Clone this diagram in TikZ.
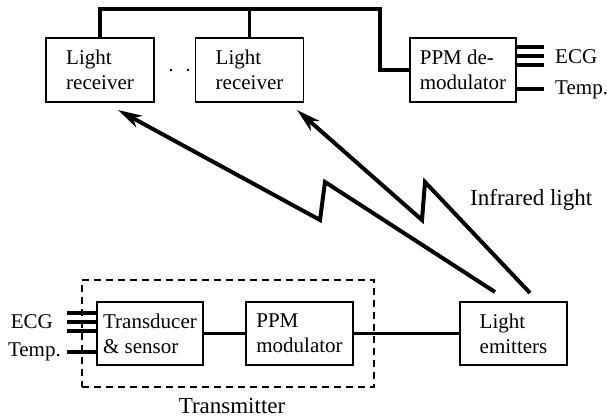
\documentclass[tikz,border=0pt]{standalone}
\usepackage{fontspec}
\setmainfont{Liberation Serif}
\usetikzlibrary{arrows.meta}
\begin{document}
\begin{tikzpicture}[x=1pt,y=-1pt,
  blk/.style={draw,line width=1.4pt,minimum height=64pt,align=left,inner sep=0pt,
    font=\fontsize{21}{25}\selectfont},
  lbl/.style={font=\fontsize{21}{25}\selectfont,inner sep=0pt},
  big/.style={font=\fontsize{23}{27}\selectfont,inner sep=0pt},
  wire/.style={line width=3.2pt},
  ray/.style={line width=4pt,-{Stealth[length=24pt,width=13pt,inset=7pt]}},
]
\useasboundingbox (0,0) rectangle (607,419);
% receiver side
\node[blk,minimum width=108pt] (rec1) at (100,70) {Light\\receiver};
\node[blk,minimum width=108pt] (rec2) at (249.5,70) {Light\\receiver};
\node[blk,minimum width=106pt] (demod) at (463,70) {PPM de-\\modulator};
\node (d1) at (171,70) {};
\node (d2) at (188,70) {};
\fill (d1) circle (1.4pt);
\fill (d2) circle (1.4pt);
\coordinate (c1) at (380,9);
\draw[wire] (rec1.north) |- (c1) |- (demod.west);
\draw[wire] (rec2.north) -- (rec2.north |- c1);
% demod outputs
\foreach \y in {47,56,65}{
  \draw[wire] (demod.east |- 0,\y) -- (544,\y);
}
\draw[wire] (demod.east |- 0,89) -- (544,89);
\node[lbl,anchor=west] (ecgo) at (555,57) {ECG};
\node[lbl,anchor=west] (tempo) at (555,90) {Temp.};
% transmitter side
\node[blk,minimum width=106pt,minimum height=63pt] (trans) at (150,333.5) {Transducer\\\& sensor};
\node[blk,minimum width=107pt,minimum height=63pt] (mod) at (299.5,333.5) {PPM\\modulator};
\node[blk,minimum width=107pt,minimum height=63pt] (emit) at (513.5,333.5) {Light\\emitters};
\draw[wire] (trans.east) -- (mod.west);
\draw[wire] (mod.east) -- (emit.west);
\foreach \y in {313,322,331}{
  \draw[wire] (67,\y) -- (trans.west |- 0,\y);
}
\draw[wire] (67,352) -- (trans.west |- 0,352);
\node[lbl,anchor=east] (ecgi) at (53,322) {ECG};
\node[lbl,anchor=east] (tempi) at (61,352) {Temp.};
\node[draw,line width=2pt,dash pattern=on 7pt off 5pt,minimum width=292pt,minimum height=107pt,inner sep=0pt] (tx) at (228,333.5) {};
\node[big] (txl) at (232,406) {Transmitter};
% infrared rays
\coordinate (s1) at (495,292);
\coordinate (p1) at (325,182);
\coordinate (v1) at (320,220);
\coordinate (t1) at (118,110);
\coordinate (s2) at (530,293);
\coordinate (p2) at (425,182);
\coordinate (v2) at (422,220);
\coordinate (t2) at (297,110);
\draw[ray,line join=miter] (s1) -- (p1) -- (v1) -- (t1);
\draw[ray,line join=miter] (s2) -- (p2) -- (v2) -- (t2);
\node[big,anchor=west] (irl) at (470,200) {Infrared light};
\end{tikzpicture}
\end{document}
